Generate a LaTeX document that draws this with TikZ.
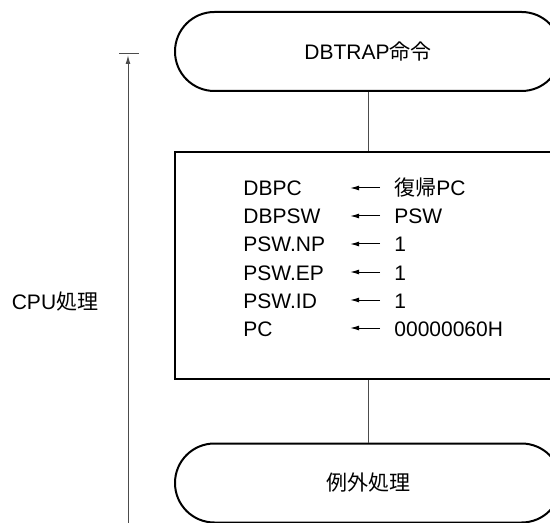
\documentclass[tikz,border=0pt]{standalone}
\usepackage{fontspec}
\setmainfont{Liberation Sans}
\newfontfamily\jp{Noto Sans CJK JP}
\usetikzlibrary{arrows.meta, positioning}

\begin{document}
\begin{tikzpicture}[x=0.5pt, y=-0.5pt, >={Latex[length=4.5pt,width=2.4pt]},
        font=\fontsize{10.5}{12}\selectfont,
        term/.style={draw, line width=1pt, rounded corners=19.7pt, minimum width=193pt, minimum height=39.5pt},
        regbox/.style={draw, line width=1pt, minimum width=193pt, minimum height=113.5pt},
        link/.style={black!70, line width=0.5pt},
        reg/.style={anchor=base west, inner sep=0pt}]
        \useasboundingbox (0,0) rectangle (550,523);
        \clip (0,0) rectangle (550,523);

        \node[term] (trap) at (368,51.5) {DBTRAP{\jp 命令}};
        \node[regbox] (save) at (368,265.5) {};
        \node[term] (exc) at (368,483) {{\jp 例外処理}};

        \draw[link] (trap) -- (save);
        \draw[link] (save) -- (exc);

        % register transfers
        \foreach \dst/\src [count=\i] in {DBPC/{\jp 復帰}PC, DBPSW/PSW, PSW.NP/1, PSW.EP/1, PSW.ID/1, PC/00000060H} {
            \node[reg] (dst\i) at (243,{168+28*\i}) {\dst};
            \node[reg] (src\i) at (394,{168+28*\i}) {\src};
            \coordinate (tail\i) at (380,{160+28*\i});
            \coordinate (tip\i) at (350,{160+28*\i});
            \draw[->, line width=0.5pt] (tail\i) -- (tip\i);
        }

        % CPU span
        \coordinate (cpubot) at (128,523);
        \coordinate (cputop) at (128,55);
        \coordinate (tickl) at (119,54);
        \coordinate (tickr) at (139,54);
        \draw[link, ->] (cpubot) -- (cputop);
        \draw[link] (tickl) -- (tickr);
        \node (cpu) at (55,302) {CPU{\jp 処理}};
\end{tikzpicture}
\end{document}
